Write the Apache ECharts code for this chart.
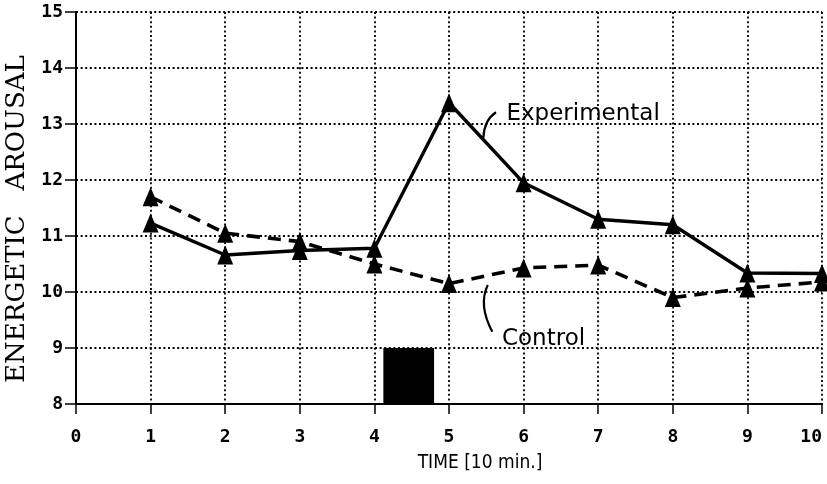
<!DOCTYPE html>
<html><head><meta charset="utf-8">
<script src="https://cdn.jsdelivr.net/npm/echarts@6/dist/echarts.min.js"></script>
<style>html,body{margin:0;padding:0;background:#fff}#c{width:827px;height:484px}</style>
</head><body><div id="c"></div>
<script>
const timePoints = [1, 2, 3, 4, 5, 6, 7, 8, 9, 10];
const experimental = [11.23, 10.66, 10.74, 10.78, 13.38, 11.95, 11.3, 11.2, 10.34, 10.33];
const control = [11.7, 11.05, 10.9, 10.5, 10.15, 10.43, 10.48, 9.9, 10.07, 10.18];
const treatmentBlock = [[4.12, 4.8, 8, 9]]; // x0, x1, y0, y1
const annotations = [
  {text: 'Experimental', x: 5.77, y: 13.18, arc: [[5.46, 12.75], [5.47, 13.07], [5.63, 13.21]]},
  {text: 'Control', x: 5.71, y: 9.16, arc: [[5.52, 10.125], [5.39, 9.77], [5.58, 9.29]]}
];
const xTicks = [0,1,2,3,4,5,6,7,8,9,10];
const yTicks = [8,9,10,11,12,13,14,15];

const chart = echarts.init(document.getElementById('c'));
const monoLabel = {fontFamily: 'DejaVu Sans Mono', fontWeight: 'bold', fontSize: 18, color: '#000'};
const grid = {lineStyle: {color: '#000', width: 1.8, type: [2, 2.6]}};
chart.setOption({
  animation: false,
  backgroundColor: '#fff',
  grid: {left: 76, right: 5, top: 12, bottom: 80, containLabel: false, outerBoundsMode: 'none'},
  xAxis: {
    type: 'value', min: 0, max: 10, interval: 1,
    name: 'TIME [10 min.]', nameLocation: 'middle', nameGap: 50,
    nameTextStyle: {fontFamily: 'DejaVu Sans Condensed', fontSize: 19, color: '#000', padding: [0, 0, 0, 62]},
    axisLine: {lineStyle: {color: '#000', width: 2}},
    axisTick: {show: true, length: 10, lineStyle: {color: '#000', width: 1.5}},
    axisLabel: Object.assign({margin: 24, alignMaxLabel: 'right', formatter: v => String(v)}, monoLabel),
    splitLine: Object.assign({show: true}, grid)
  },
  yAxis: {
    type: 'value', min: 8, max: 15, interval: 1,
    name: 'ENERGETIC   AROUSAL', nameLocation: 'middle', nameGap: 46, nameRotate: 90,
    nameTextStyle: {fontFamily: 'DejaVu Serif', fontSize: 26, color: '#000', padding: [0, 0, 0, -22]},
    axisLine: {lineStyle: {color: '#000', width: 2}},
    axisTick: {show: true, length: 11, lineStyle: {color: '#000', width: 1.5}},
    axisLabel: Object.assign({margin: 13}, monoLabel),
    splitLine: Object.assign({show: true}, grid)
  },
  series: [
    {
      type: 'line', name: 'Experimental',
      data: timePoints.map((t, i) => [t, experimental[i]]),
      lineStyle: {color: '#000', width: 3.4},
      symbol: 'triangle', symbolSize: [16, 19], itemStyle: {color: '#000'}, z: 5
    },
    {
      type: 'line', name: 'Control',
      data: timePoints.map((t, i) => [t, control[i]]),
      lineStyle: {color: '#000', width: 3.6, type: [13, 8]},
      symbol: 'triangle', symbolSize: [16, 19], itemStyle: {color: '#000'}, z: 5
    },
    {
      type: 'custom', z: 4,
      data: treatmentBlock,
      renderItem: (params, api) => {
        const p0 = api.coord([api.value(0), api.value(3)]);
        const p1 = api.coord([api.value(1), api.value(2)]);
        return {type: 'rect', shape: {x: p0[0], y: p0[1], width: p1[0] - p0[0], height: p1[1] - p0[1]}, style: {fill: '#000'}};
      }
    },
    {
      type: 'custom', z: 6,
      data: annotations.map((a, i) => [a.x, a.y, i]),
      renderItem: (params, api) => {
        const a = annotations[api.value(2)];
        const tp = api.coord([a.x, a.y]);
        const s = api.coord(a.arc[0]), c = api.coord(a.arc[1]), e = api.coord(a.arc[2]);
        return {type: 'group', children: [
          {type: 'text', x: tp[0], y: tp[1], style: {text: a.text, fontFamily: 'DejaVu Sans', fontSize: 23, fill: '#000', textVerticalAlign: 'middle', textAlign: 'left'}},
          {type: 'bezierCurve', shape: {x1: s[0], y1: s[1], cpx1: c[0], cpy1: c[1], x2: e[0], y2: e[1]}, style: {stroke: '#000', lineWidth: 2.2, fill: null}}
        ]};
      }
    }
  ]
});
</script></body></html>
